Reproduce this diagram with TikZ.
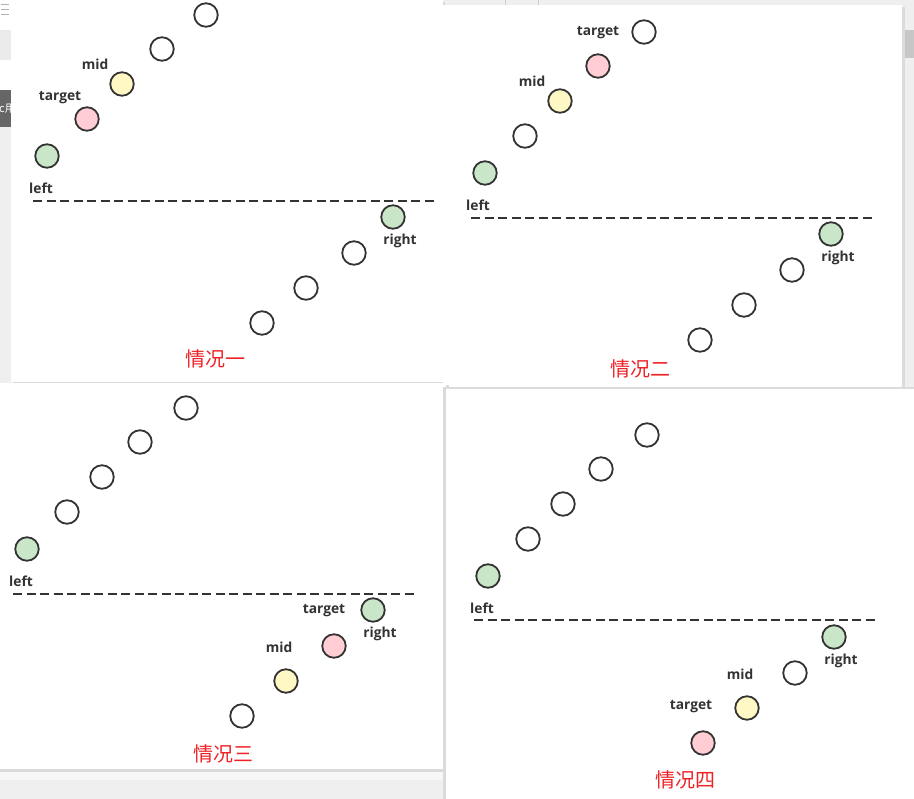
\documentclass[tikz,border=0pt]{standalone}
\usepackage{fontspec}
\setmainfont{Open Sans}
\newfontfamily\cjk{Noto Sans CJK SC}
\definecolor{ink}{HTML}{333333}
\definecolor{gfill}{HTML}{C9E6C9}
\definecolor{pfill}{HTML}{FFCDD3}
\definecolor{yfill}{HTML}{FFF8C4}
\definecolor{casered}{HTML}{EE2226}
\definecolor{bg}{HTML}{EFEFEF}
\tikzset{
  ball/.style={circle, draw=ink, line width=1.8pt, minimum size=23.5pt, inner sep=0pt},
  wball/.style={ball, fill=white},
  gball/.style={ball, fill=gfill},
  pball/.style={ball, fill=pfill},
  yball/.style={ball, fill=yfill},
  lbl/.style={text=ink, font=\fontsize{13.8}{14}\selectfont\bfseries, inner sep=0pt},
  casetext/.style={text=casered, font=\cjk\fontsize{20}{20}\selectfont, inner sep=0pt},
  divider/.style={draw=ink, line width=1.8pt, dash pattern=on 9pt off 4.5pt},
  panelbox/.style={fill=white},
  panelshadow/.style={fill=black!14},
}
\begin{document}
\begin{tikzpicture}[x=1pt,y=-1pt]
\useasboundingbox (0,0) rectangle (914,799);
% background
\fill[bg] (0,0) rectangle (914,799);
% left strip artefacts of panel 1
\fill[white] (0,0) rectangle (11,30);
\fill[black!8] (0,30) rectangle (11,60);
\fill[white] (0,60) rectangle (11,90);
\fill[black!60] (0,90) rectangle (11,127);
\begin{scope}
\clip (0,90) rectangle (11,127);
\node[text=white, font=\cjk\fontsize{11}{11}\selectfont, anchor=west, inner sep=0pt] (stripc) at (-1,108.5) {c用};
\end{scope}
\draw[black!30, line width=1pt] (1,5) -- (9,5) (1,10) -- (9,10) (1,15) -- (9,15);
% tab bar above panel 2
\draw[black!20, line width=0.8pt] (505,0) -- (505,5) (538,0) -- (538,5);
\fill[black!22] (902,30) rectangle (914,58);
% below panel 3
\fill[black!3] (0,770) rectangle (446,780);

% panel shadows and panels
\fill[panelshadow] (13,2) rectangle (445,385);
\fill[panelbox] (11,0) rectangle (443,382);
\fill[panelshadow] (445,7) rectangle (905,390);
\fill[panelbox] (443,5) rectangle (902,387);
\fill[panelshadow] (0,385) rectangle (449,772);
\fill[panelbox] (0,383) rectangle (446,769);
\fill[panelshadow] (443,387) rectangle (914,799);
\fill[panelbox] (446,389) rectangle (914,799);

% ---------- panel 1 ----------
\node[wball] (a1) at (206,15) {};
\node[wball] (a2) at (162,49) {};
\node[yball] (amid) at (122,84) {};
\node[pball] (atarget) at (87,119) {};
\node[gball] (aleft) at (47,156) {};
\node[gball] (aright) at (393,217) {};
\node[wball] (a3) at (354,253) {};
\node[wball] (a4) at (306,288) {};
\node[wball] (a5) at (262,323) {};
\node[lbl] (amidl) at (95,64) {mid};
\node[lbl] (atargetl) at (60,98) {target};
\node[lbl] (aleftl) at (41,188) {left};
\node[lbl] (arightl) at (400,241) {right};
\coordinate (ad1) at (33,201);
\coordinate (ad2) at (435,201);
\draw[divider] (ad1) -- (ad2);
\node[casetext] (acase) at (215,359) {情况一};

% ---------- panel 2 ----------
\node[wball] (b1) at (644,32) {};
\node[pball] (btarget) at (598,66) {};
\node[yball] (bmid) at (560,101) {};
\node[wball] (b2) at (525,136) {};
\node[gball] (bleft) at (485,173) {};
\node[gball] (bright) at (831,234) {};
\node[wball] (b3) at (792,270) {};
\node[wball] (b4) at (744,305) {};
\node[wball] (b5) at (700,340) {};
\node[lbl] (btargetl) at (598,33) {target};
\node[lbl] (bmidl) at (532,81) {mid};
\node[lbl] (bleftl) at (478,205) {left};
\node[lbl] (brightl) at (838,258) {right};
\coordinate (bd1) at (471,218);
\coordinate (bd2) at (873,218);
\draw[divider] (bd1) -- (bd2);
\node[casetext] (bcase) at (640,369) {情况二};

% ---------- panel 3 ----------
\node[wball] (c1) at (186,408) {};
\node[wball] (c2) at (140,442) {};
\node[wball] (c3) at (102,477) {};
\node[wball] (c4) at (67,512) {};
\node[gball] (cleft) at (27,549) {};
\node[gball] (cright) at (373,610) {};
\node[pball] (ctarget) at (334,646) {};
\node[yball] (cmid) at (286,681) {};
\node[wball] (c5) at (242,716) {};
\node[lbl] (cleftl) at (21,581) {left};
\node[lbl] (ctargetl) at (324,611) {target};
\node[lbl] (crightl) at (380,634) {right};
\node[lbl] (cmidl) at (279,647) {mid};
\coordinate (cd1) at (13,594);
\coordinate (cd2) at (415,594);
\draw[divider] (cd1) -- (cd2);
\node[casetext] (ccase) at (223,754) {情况三};

% ---------- panel 4 ----------
\node[wball] (d1) at (647,435) {};
\node[wball] (d2) at (601,469) {};
\node[wball] (d3) at (563,504) {};
\node[wball] (d4) at (528,539) {};
\node[gball] (dleft) at (488,576) {};
\node[gball] (dright) at (834,637) {};
\node[wball] (d5) at (795,673) {};
\node[yball] (dmid) at (747,708) {};
\node[pball] (dtarget) at (703,743) {};
\node[lbl] (dleftl) at (482,608) {left};
\node[lbl] (drightl) at (841,661) {right};
\node[lbl] (dmidl) at (740,674) {mid};
\node[lbl] (dtargetl) at (691,707) {target};
\coordinate (dd1) at (474,620);
\coordinate (dd2) at (876,620);
\draw[divider] (dd1) -- (dd2);
\node[casetext] (dcase) at (685,780) {情况四};
\end{tikzpicture}
\end{document}
